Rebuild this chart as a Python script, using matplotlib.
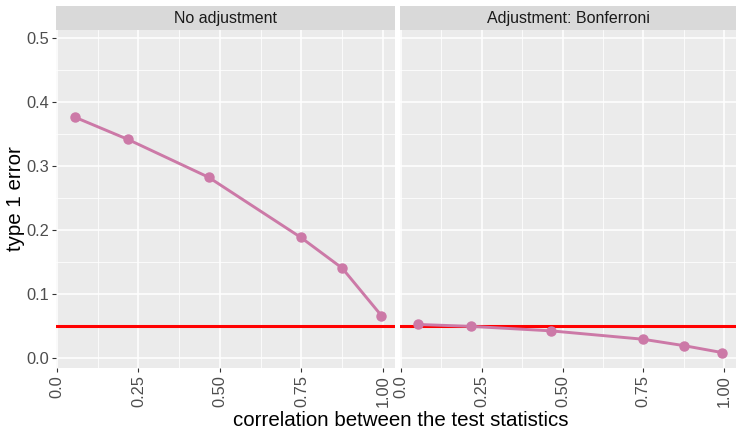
import numpy as np
import matplotlib.pyplot as plt

plt.rcParams['font.family'] = ['Liberation Sans', 'DejaVu Sans']

# correlation between the test statistics
rho = [0.054, 0.218, 0.465, 0.748, 0.875, 0.995]
# simulated type 1 error rates
err_none = [0.376, 0.341, 0.282, 0.188, 0.140, 0.066]
err_bonf = [0.052, 0.049, 0.042, 0.029, 0.019, 0.008]
panels = ['No adjustment', 'Adjustment: Bonferroni']
alpha = 0.05

x_ticks = [0.0, 0.25, 0.5, 0.75, 1.0]
x_labels = ['0.0', '0.25', '0.50', '0.75', '1.00']
y_ticks = [0.0, 0.1, 0.2, 0.3, 0.4, 0.5]

W, H = 737, 430
fig = plt.figure(figsize=(W / 100, H / 100), dpi=100)

bg = '#EBEBEB'
strip_bg = '#D9D9D9'
line_col = '#CC79A7'

boxes = [(56, 395), (400, 736)]
top, bot = 30, 368
strip_top = 6

axes = []
for i, ((x0, x1), title, err) in enumerate(zip(boxes, panels, [err_none, err_bonf])):
    ax = fig.add_axes([x0 / W, 1 - bot / H, (x1 - x0) / W, (bot - top) / H])
    ax.set_facecolor(bg)
    for s in ax.spines.values():
        s.set_visible(False)
    ax.set_xlim(-0.003, 1.037)
    ax.set_ylim(-0.016, 0.512)
    ax.set_xticks(x_ticks)
    ax.set_xticklabels(x_labels, rotation=90)
    ax.set_xticks([0.125, 0.375, 0.625, 0.875], minor=True)
    ax.set_yticks(y_ticks)
    ax.set_yticks([0.05, 0.15, 0.25, 0.35, 0.45], minor=True)
    ax.grid(which='major', color='white', linewidth=1.1)
    ax.grid(which='minor', color='white', linewidth=0.55)
    ax.set_axisbelow(True)
    ax.tick_params(which='major', length=3, width=0.8, color='#333333',
                   labelsize=11.8, labelcolor='#4D4D4D', pad=2)
    ax.tick_params(which='minor', length=0)
    if i == 0:
        ax.set_yticklabels([f'{v:.1f}' for v in y_ticks])
    else:
        ax.tick_params(axis='y', which='major', length=0, labelleft=False)

    ax.axhline(alpha, color='#FF0000', linewidth=2.2, zorder=2)
    ax.plot(rho, err, color=line_col, linewidth=2.1, marker='o',
            markersize=6.5, zorder=3)

    # facet strip
    sax = fig.add_axes([x0 / W, 1 - top / H, (x1 - x0) / W, (top - strip_top) / H])
    sax.set_facecolor(strip_bg)
    sax.set_xticks([])
    sax.set_yticks([])
    for s in sax.spines.values():
        s.set_visible(False)
    sax.text(0.5, 0.5, title, ha='center', va='center', fontsize=11.5,
             color='#1A1A1A', transform=sax.transAxes)
    axes.append(ax)

fig.text(401 / W, 1 - 421 / H, 'correlation between the test statistics',
         ha='center', va='center', fontsize=14.8)
fig.text(16 / W, 1 - 199 / H, 'type 1 error', ha='center', va='center',
         rotation=90, fontsize=14.8)

fig.savefig('out.png', dpi=100)
